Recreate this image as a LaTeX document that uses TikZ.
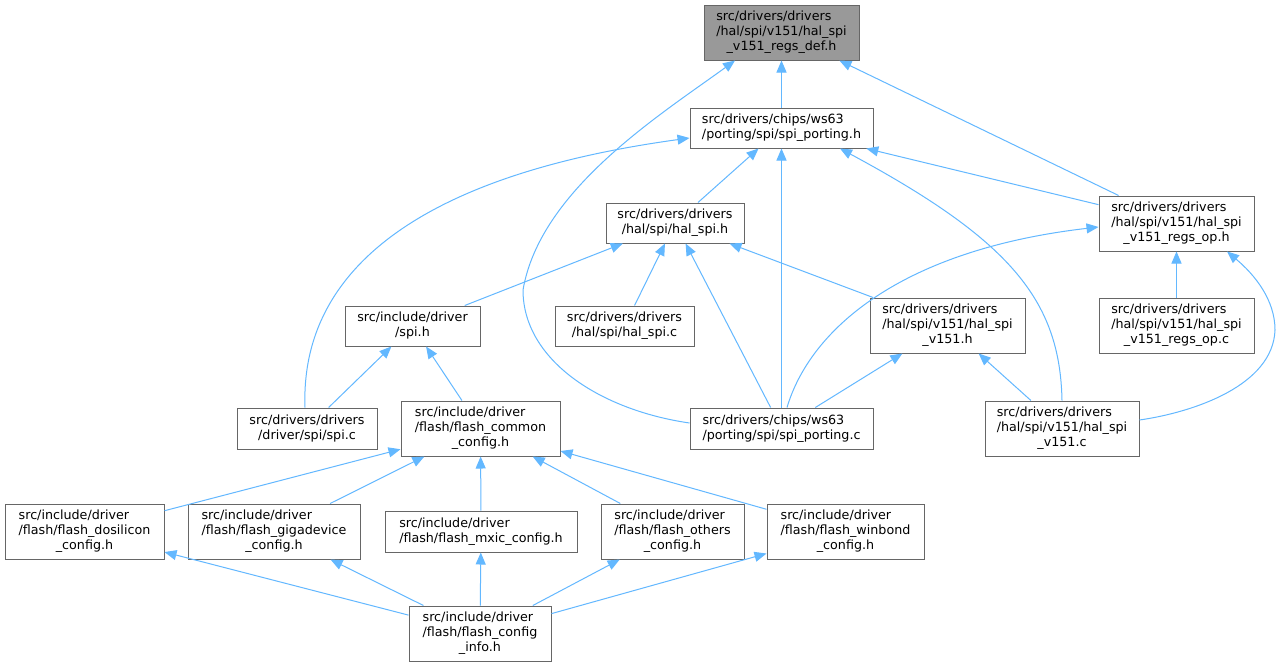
\documentclass[tikz,border=0pt]{standalone}
\usepackage{fontspec}
\setmainfont{DejaVu Sans}
\usetikzlibrary{arrows.meta,calc}
\definecolor{edgec}{HTML}{63B8FF}
\definecolor{boxc}{HTML}{666666}
\definecolor{rootfill}{HTML}{999999}
\newcommand{\lblii}[2]{\begin{tabular}{@{}l@{}}#1\\\multicolumn{1}{@{}c@{}}{#2}\end{tabular}}
\newcommand{\lbliii}[3]{\begin{tabular}{@{}l@{}}#1\\#2\\\multicolumn{1}{@{}c@{}}{#3}\end{tabular}}
\begin{document}
\begin{tikzpicture}[x=1pt,y=-1pt,
  box/.style={rectangle,draw=boxc,line width=1pt,fill=white,inner sep=0pt,
    font=\fontsize{12.7}{15}\selectfont},
  rootbox/.style={box,fill=rootfill},
  edge/.style={draw=edgec,line width=1pt,-{Triangle[length=12pt,width=10pt]}}]
\fill[white] (0,0) rectangle (1281,667);
\useasboundingbox (0,0) rectangle (1281,667);

\node[rootbox,minimum width=155,minimum height=55] (A) at (781.5,32.5) {\lbliii{src/drivers/drivers}{/hal/spi/v151/hal\_spi}{\_v151\_regs\_def.h}};
\node[box,minimum width=183,minimum height=40] (B) at (781.5,128) {\lblii{src/drivers/chips/ws63}{/porting/spi/spi\_porting.h}};
\node[box,minimum width=138,minimum height=40] (C) at (675,223) {\lblii{src/drivers/drivers}{/hal/spi/hal\_spi.h}};
\node[box,minimum width=155,minimum height=55] (D) at (1176.5,223.5) {\lbliii{src/drivers/drivers}{/hal/spi/v151/hal\_spi}{\_v151\_regs\_op.h}};
\node[box,minimum width=135,minimum height=40] (E) at (412.5,326) {\lblii{src/include/driver}{/spi.h}};
\node[box,minimum width=139,minimum height=40] (F) at (624.5,326) {\lblii{src/drivers/drivers}{/hal/spi/hal\_spi.c}};
\node[box,minimum width=155,minimum height=55] (G) at (947.5,325.5) {\lbliii{src/drivers/drivers}{/hal/spi/v151/hal\_spi}{\_v151.h}};
\node[box,minimum width=155,minimum height=55] (H) at (1176.5,325.5) {\lbliii{src/drivers/drivers}{/hal/spi/v151/hal\_spi}{\_v151\_regs\_op.c}};
\node[box,minimum width=140,minimum height=41] (I) at (307,428.5) {\lblii{src/drivers/drivers}{/driver/spi/spi.c}};
\node[box,minimum width=159,minimum height=55] (J) at (480.5,428.5) {\lbliii{src/include/driver}{/flash/flash\_common}{\_config.h}};
\node[box,minimum width=183,minimum height=41] (K) at (781.5,428.5) {\lblii{src/drivers/chips/ws63}{/porting/spi/spi\_porting.c}};
\node[box,minimum width=154,minimum height=55] (L) at (1062,428.5) {\lbliii{src/drivers/drivers}{/hal/spi/v151/hal\_spi}{\_v151.c}};
\node[box,minimum width=159,minimum height=55] (M) at (84.5,531.5) {\lbliii{src/include/driver}{/flash/flash\_dosilicon}{\_config.h}};
\node[box,minimum width=172,minimum height=55] (N) at (274,531.5) {\lbliii{src/include/driver}{/flash/flash\_gigadevice}{\_config.h}};
\node[box,minimum width=192,minimum height=41] (O) at (481,531.5) {\lblii{src/include/driver}{/flash/flash\_mxic\_config.h}};
\node[box,minimum width=143,minimum height=55] (P) at (672.5,531.5) {\lbliii{src/include/driver}{/flash/flash\_others}{\_config.h}};
\node[box,minimum width=157,minimum height=55] (Q) at (845.5,531.5) {\lbliii{src/include/driver}{/flash/flash\_winbond}{\_config.h}};
\node[box,minimum width=142,minimum height=55] (R) at (480,633.5) {\lbliii{src/include/driver}{/flash/flash\_config}{\_info.h}};

% straight edges (child -> parent)
\draw[edge] (B) -- (A);
\draw[edge] (D) -- (A);
\draw[edge] (C) -- (B);
\draw[edge] (K) -- (B);
\draw[edge] (D) -- (B);
\draw[edge] (E) -- (C);
\draw[edge] (F) -- (C);
\draw[edge] (K) -- (C);
\draw[edge] (G) -- (C);
\draw[edge] (H) -- (D);
\draw[edge] (I) -- (E);
\draw[edge] (J) -- (E);
\draw[edge] (K) -- (G);
\draw[edge] (L) -- (G);
\draw[edge] (M) -- (J);
\draw[edge] (N) -- (J);
\draw[edge] (O) -- (J);
\draw[edge] (P) -- (J);
\draw[edge] (Q) -- (J);
\draw[edge] (R) -- (M);
\draw[edge] (R) -- (N);
\draw[edge] (R) -- (O);
\draw[edge] (R) -- (P);
\draw[edge] (R) -- (Q);

% curved edges
\draw[edge] ($(K.west)+(0,-5.5)$) .. controls (600,410) and (523,360) .. (523,290)
  .. controls (540,190) and (660,115) .. ($(A.south)+(-46.5,0)$);
\draw[edge] ($(I.north)+(-2,0)$) .. controls (300,270) and (420,175) .. ($(B.west)+(0,10)$);
\draw[edge] (L.north) .. controls (1060,300) and (1010,240) .. ($(B.south)+(58.5,0)$);
\draw[edge] ($(K.north)+(5.5,0)$) .. controls (810,330) and (900,250) .. ($(D.west)+(0,3.5)$);
\draw[edge] ($(L.east)+(0,-8.5)$) .. controls (1195,412) and (1273,385) .. (1275,330)
  .. controls (1275,300) and (1255,275) .. ($(D.south)+(50.5,0)$);
\end{tikzpicture}
\end{document}
